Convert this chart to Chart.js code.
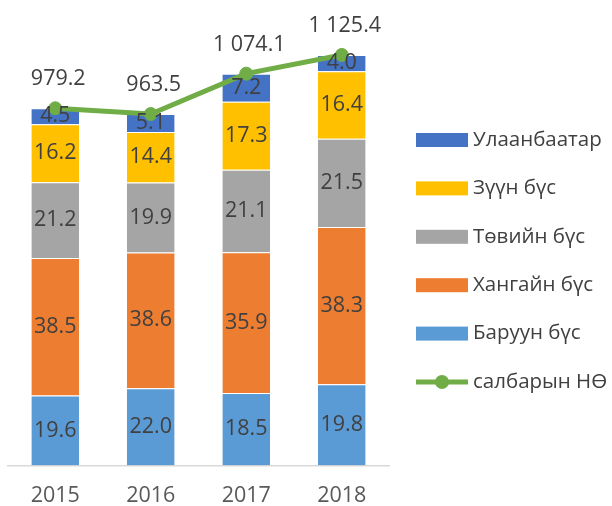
<!DOCTYPE html>
<html>
<head>
<meta charset="utf-8">
<script src="https://cdn.jsdelivr.net/npm/chart.js@4"></script>
<style>
  body { margin: 0; background: #fff; }
  #wrap { width: 612px; height: 506px; }
</style>
</head>
<body>
<div id="wrap"><canvas id="chart" width="612" height="506"></canvas></div>
<script>
// data
const years = ['2015', '2016', '2017', '2018'];
const totalGDP = [979.2, 963.5, 1074.1, 1125.4];   // салбарын НӨ
const baruun = [19.6, 22.0, 18.5, 19.8];           // % shares
const khangai = [38.5, 38.6, 35.9, 38.3];
const tuv = [21.2, 19.9, 21.1, 21.5];
const zuun = [16.2, 14.4, 17.3, 16.4];
const ulaanbaatar = [4.5, 5.1, 7.2, 4.0];

const FONT = "'Open Sans', 'Noto Sans', sans-serif";
const textColor = '#404040';

// bar height = share of the total, label = share
function part(shares) {
  return shares.map((s, i) => s * totalGDP[i] / 100);
}

function barSet(label, shares, color) {
  return {
    type: 'bar',
    label: label,
    data: part(shares),
    shares: shares,
    backgroundColor: color,
    borderColor: 'rgba(255,255,255,0.55)',
    borderWidth: { top: 1 },
    barPercentage: 0.5,
    categoryPercentage: 1,
    order: 1
  };
}

function fmtThousands(v) {
  let s = v.toFixed(1);
  let parts = s.split('.');
  parts[0] = parts[0].replace(/\B(?=(\d{3})+(?!\d))/g, ' ');
  return parts.join('.');
}

const legendItems = [
  { text: 'Улаанбаатар', color: '#4472C4' },
  { text: 'Зүүн бүс', color: '#FFC000' },
  { text: 'Төвийн бүс', color: '#A5A5A5' },
  { text: 'Хангайн бүс', color: '#ED7D31' },
  { text: 'Баруун бүс', color: '#5B9BD5' },
  { text: 'салбарын НӨ', color: '#70AD47', line: true }
];

const labelPlugin = {
  id: 'labels',
  afterDatasetsDraw(chart) {
    const ctx = chart.ctx;
    ctx.save();
    ctx.font = '21.5px ' + FONT;
    ctx.fillStyle = textColor;
    ctx.textAlign = 'center';
    ctx.textBaseline = 'middle';
    chart.data.datasets.forEach((ds, di) => {
      const meta = chart.getDatasetMeta(di);
      meta.data.forEach((el, i) => {
        if (ds.type === 'bar') {
          ctx.fillText(ds.shares[i].toFixed(1), el.x, (el.y + el.base) / 2);
        } else {
          ctx.fillText(fmtThousands(ds.data[i]), el.x + 3, el.y - 29);
        }
      });
    });
    ctx.restore();
  },
  afterDraw(chart) {
    // legend on the right
    const ctx = chart.ctx;
    ctx.save();
    ctx.font = '20.5px ' + FONT;
    ctx.textBaseline = 'middle';
    ctx.textAlign = 'left';
    legendItems.forEach((it, i) => {
      const y = 140 + i * 48.4;
      if (it.line) {
        ctx.strokeStyle = it.color;
        ctx.lineWidth = 5;
        ctx.beginPath();
        ctx.moveTo(416, y);
        ctx.lineTo(468, y);
        ctx.stroke();
        ctx.fillStyle = it.color;
        ctx.beginPath();
        ctx.arc(442, y, 7, 0, Math.PI * 2);
        ctx.fill();
      } else {
        ctx.fillStyle = it.color;
        ctx.fillRect(416, y - 7, 52, 14);
      }
      ctx.fillStyle = textColor;
      ctx.fillText(it.text, 473, y);
    });
    ctx.restore();
  }
};

new Chart(document.getElementById('chart'), {
  data: {
    labels: years,
    datasets: [
      barSet('Баруун бүс', baruun, '#5B9BD5'),
      barSet('Хангайн бүс', khangai, '#ED7D31'),
      barSet('Төвийн бүс', tuv, '#A5A5A5'),
      barSet('Зүүн бүс', zuun, '#FFC000'),
      barSet('Улаанбаатар', ulaanbaatar, '#4472C4'),
      {
        type: 'line',
        label: 'салбарын НӨ',
        data: totalGDP,
        borderColor: '#70AD47',
        backgroundColor: '#70AD47',
        borderWidth: 5,
        pointRadius: 6.5,
        pointBorderWidth: 1,
        pointBackgroundColor: '#70AD47',
        tension: 0,
        order: 0
      }
    ]
  },
  options: {
    responsive: false,
    animation: false,
    layout: { autoPadding: false, padding: { left: 7.5, right: 222.5, top: 0, bottom: 0 } },
    plugins: {
      legend: { display: false },
      tooltip: { enabled: false }
    },
    scales: {
      x: {
        stacked: true,
        grid: { display: false, drawTicks: false },
        border: { display: true, color: '#D9D9D9', width: 1.5 },
        ticks: { color: '#595959', font: { family: FONT, size: 21.5, lineHeight: 1 }, padding: 20 },
        afterFit(scale) { scale.height = 40.5; }
      },
      y: {
        stacked: true,
        display: false,
        min: 0,
        max: 1276
      }
    }
  },
  plugins: [labelPlugin]
});
</script>
</body>
</html>
